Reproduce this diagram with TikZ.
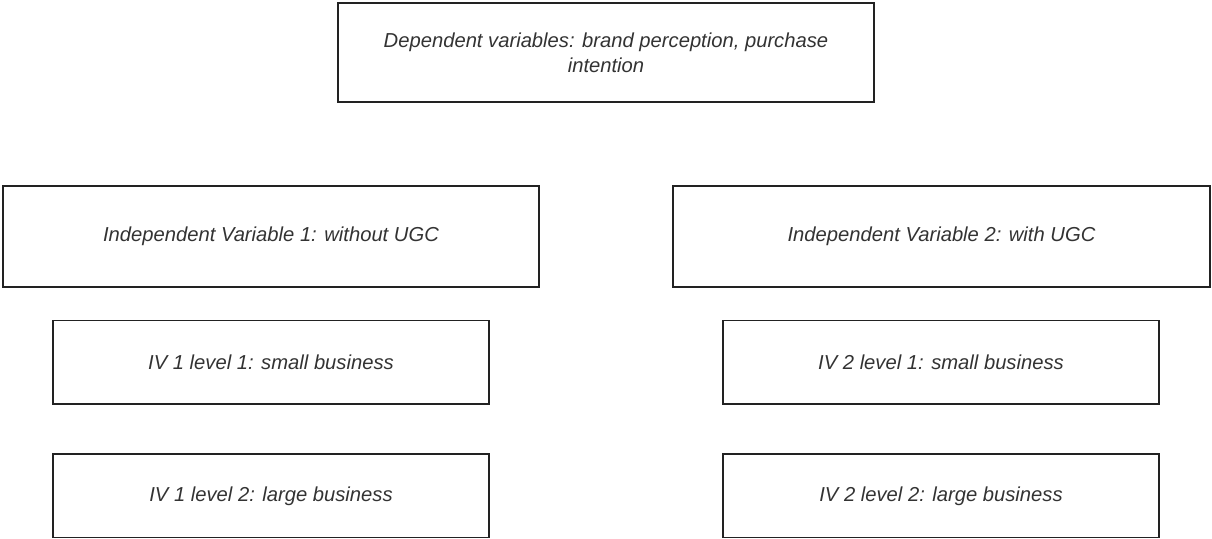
\documentclass[tikz,border=0pt]{standalone}
\usepackage{fontspec}
\setmainfont{Liberation Sans}
\definecolor{boxline}{HTML}{222222}
\definecolor{boxtext}{HTML}{333333}
\tikzset{
  varbox/.style={draw=boxline, line width=0.85pt, rectangle, align=center,
    text=boxtext, font=\fontsize{11.5}{14}\selectfont\itshape,
    minimum width=10.72cm, minimum height=2.02cm, inner sep=0pt},
  levelbox/.style={varbox, minimum width=8.72cm, minimum height=1.67cm}
}
\begin{document}
\begin{tikzpicture}
\useasboundingbox (0,0) rectangle (24.24,-10.78);

% dependent variables
\node[varbox, minimum height=1.98cm] (dv) at (12.12,-1.05)
  {Dependent variables: brand perception, purchase\\intention};

% independent variables
\node[varbox] (iva) at (5.42,-4.73) {Independent Variable 1: without UGC};
\node[varbox, minimum width=10.74cm] (ivb) at (18.83,-4.73) {Independent Variable 2: with UGC};

% levels
\node[levelbox] (ivaone) at (5.42,-7.25) {IV 1 level 1: small business};
\node[levelbox] (ivbone) at (18.82,-7.25) {IV 2 level 1: small business};
\node[levelbox] (ivatwo) at (5.42,-9.92) {IV 1 level 2: large business};
\node[levelbox] (ivbtwo) at (18.82,-9.92) {IV 2 level 2: large business};
\end{tikzpicture}
\end{document}
